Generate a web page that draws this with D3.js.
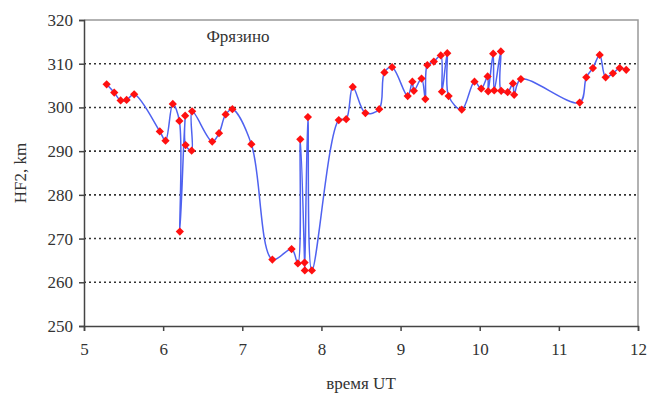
<!DOCTYPE html>
<html lang="ru">
<head>
<meta charset="utf-8">
<title>HF2 Фрязино</title>
<style>
  body { margin: 0; background: #fff; }
</style>
</head>
<body>
<svg id="chart" width="647" height="401"></svg>
<script src="https://d3js.org/d3.v7.min.js"></script>
<script>
// time UT (hours) and HF2 (km)
const times = [5.286, 5.382, 5.463, 5.538, 5.634, 5.958, 6.03, 6.122, 6.205, 6.211, 6.278, 6.284, 6.36, 6.366,
  6.62, 6.706, 6.79, 6.875, 7.115, 7.38, 7.623, 7.702, 7.733, 7.787, 7.79, 7.829, 7.879,
  8.219, 8.313, 8.396, 8.556, 8.73, 8.796, 8.893, 9.09, 9.149, 9.168, 9.265, 9.313, 9.338,
  9.42, 9.508, 9.523, 9.59, 9.607, 9.773, 9.934, 10.019, 10.10, 10.107, 10.17, 10.183,
  10.267, 10.271, 10.353, 10.42, 10.435, 10.52, 11.263, 11.347, 11.43, 11.516, 11.591,
  11.683, 11.768, 11.851];
const hf2 = [305.3, 303.4, 301.6, 301.7, 303.0, 294.5, 292.4, 300.8, 296.9, 271.6, 298.1, 291.4, 290.1, 299.1,
  292.2, 294.1, 298.4, 299.6, 291.6, 265.2, 267.6, 264.3, 292.7, 264.5, 262.7, 297.8, 262.7,
  297.1, 297.3, 304.7, 298.7, 299.6, 308.0, 309.2, 302.6, 305.9, 303.8, 306.6, 301.9, 309.7,
  310.5, 311.9, 303.6, 312.4, 302.6, 299.5, 305.9, 304.3, 307.1, 303.7, 312.3, 303.9,
  312.8, 303.8, 303.5, 305.5, 302.9, 306.5, 301.1, 306.9, 309.0, 312.0, 306.9,
  307.8, 309.0, 308.6];

const xTicks = [5, 6, 7, 8, 9, 10, 11, 12];
const yTicks = [250, 260, 270, 280, 290, 300, 310, 320];
const stationName = "Фрязино";
const xTitle = "время UT";
const yTitle = "HF2, km";

const FONT = '"Liberation Serif", "Times New Roman", serif';
const svg = d3.select("#chart");
const plotL = 84, plotR = 638, plotT = 20, plotB = 326;

const x = d3.scaleLinear().domain([5, 12]).range([plotL, plotR]);
const y = d3.scaleLinear().domain([250, 320]).range([plotB, plotT]);

// dotted grid
svg.append("g")
  .selectAll("line")
  .data(yTicks.filter(d => d > 250 && d < 320))
  .join("line")
  .attr("x1", plotL).attr("x2", plotR)
  .attr("y1", d => y(d)).attr("y2", d => y(d))
  .attr("stroke", "#333")
  .attr("stroke-width", 1.6)
  .attr("stroke-dasharray", "2,3");

// plot area frame (top and right, grey)
svg.append("path")
  .attr("d", `M${plotL},${plotT}H${plotR}V${plotB}`)
  .attr("fill", "none")
  .attr("stroke", "#999")
  .attr("stroke-width", 1.5);

const yAxis = svg.append("g")
  .attr("transform", `translate(${plotL},0)`)
  .call(d3.axisLeft(y).tickValues(yTicks).tickSize(5).tickPadding(6).tickFormat(d3.format("d")));

const xAxis = svg.append("g")
  .attr("transform", `translate(0,${plotB})`)
  .call(d3.axisBottom(x).tickValues(xTicks).tickSize(5).tickPadding(12).tickFormat(d3.format("d")));

[yAxis, xAxis].forEach(a => {
  a.attr("font-family", FONT).attr("font-size", 17);
  a.selectAll("text").attr("fill", "#333");
  a.select(".domain").attr("stroke", "#444").attr("stroke-width", 1.5);
  a.selectAll(".tick line").attr("stroke", "#444").attr("stroke-width", 1.5);
});

const pts = times.map((t, i) => [t, hf2[i]]);

svg.append("path")
  .datum(pts)
  .attr("fill", "none")
  .attr("stroke", "#4f62f0")
  .attr("stroke-width", 1.5)
  .attr("d", d3.line().x(d => x(d[0])).y(d => y(d[1])).curve(d3.curveCatmullRom.alpha(0.5)));

svg.append("g")
  .selectAll("path")
  .data(pts)
  .join("path")
  .attr("transform", d => `translate(${x(d[0])},${y(d[1])}) rotate(45)`)
  .attr("d", d3.symbol(d3.symbolSquare, 34))
  .attr("fill", "#ff1010");

const labels = svg.append("g")
  .attr("font-family", FONT)
  .attr("font-size", 17)
  .attr("fill", "#333")
  .attr("text-anchor", "middle");

labels.append("text")
  .attr("x", 238).attr("y", 42)
  .text(stationName);

labels.append("text")
  .attr("x", (plotL + plotR) / 2).attr("y", 389)
  .text(xTitle);

labels.append("text")
  .attr("transform", "translate(26,173) rotate(-90)")
  .text(yTitle);
</script>
</body>
</html>
